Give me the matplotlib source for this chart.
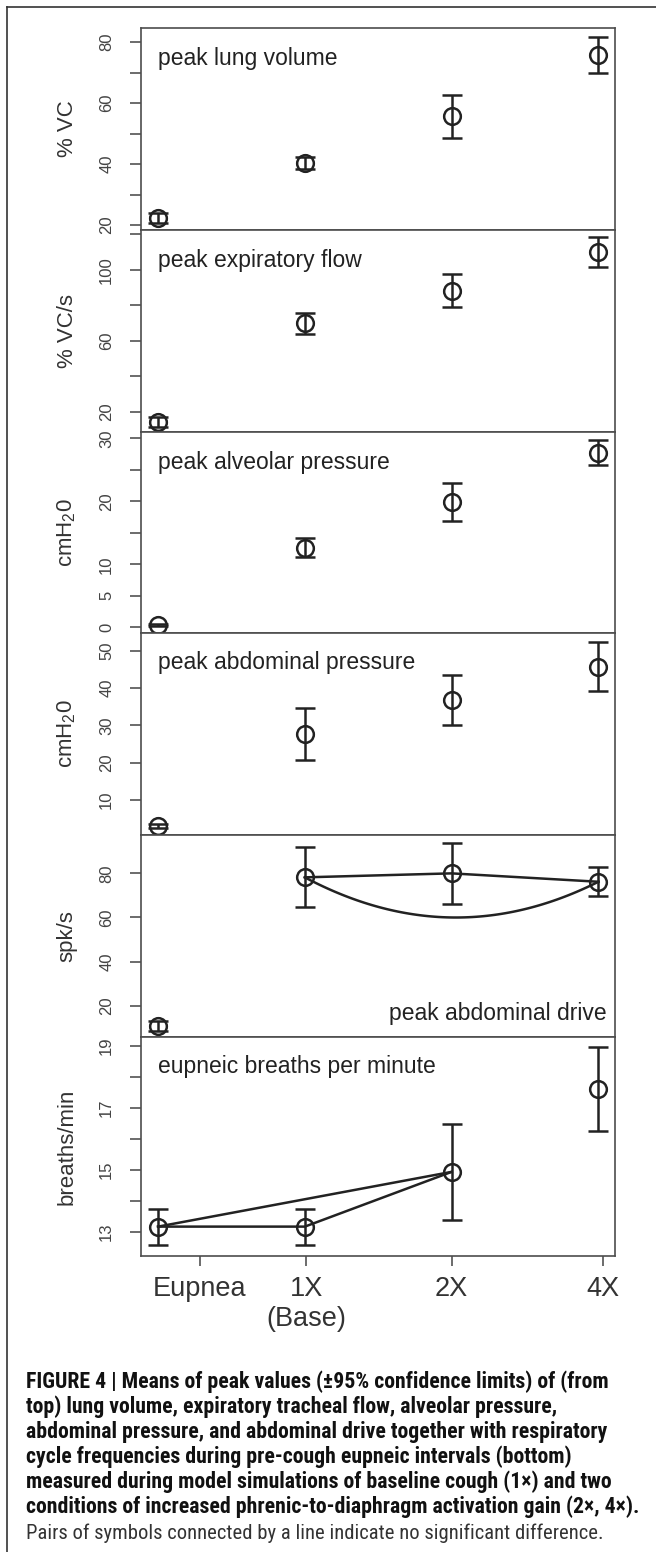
import numpy as np
import matplotlib
matplotlib.use('Agg')
import matplotlib.pyplot as plt
from matplotlib.lines import Line2D

plt.rcParams['font.family'] = ['Liberation Sans', 'DejaVu Sans']
plt.rcParams['mathtext.default'] = 'regular'

# data: means and 95% half-widths
conditions = ['Eupnea', '1X\n(Base)', '2X', '4X']

lung_volume = [22.3, 40.3, 55.7, 75.7]
lung_volume_ci = [1.7, 2.0, 7.0, 5.8]

exp_flow = [14.5, 70.0, 88.3, 110.0]
exp_flow_ci = [2.8, 6.0, 9.3, 8.5]

alv_pressure = [0.36, 12.6, 19.85, 27.7]
alv_pressure_ci = [0.2, 1.5, 3.0, 2.0]

abd_pressure = [3.0, 27.8, 36.8, 45.8]
abd_pressure_ci = [0.6, 7.0, 6.6, 6.6]

abd_drive = [10.9, 78.2, 80.0, 76.2]
abd_drive_ci = [2.2, 13.6, 13.7, 6.5]
abd_drive_arc_low = 60.0   # lowest point of the 1X-4X connecting arc

breaths = [13.16, 13.16, 14.93, 17.6]
breaths_ci = [0.58, 0.58, 1.55, 1.36]

x = np.arange(len(conditions))
tick_pos = [0.286, 1.01, 2.0, 3.03]

ink = '#222222'
grey = '#444444'

W, H = 656, 1552
fig = plt.figure(figsize=(W / 100, H / 100), dpi=100)

left, right = 140.6, 615
edges = [28, 230, 432, 633, 835, 1037, 1256]

panels = [
    (lung_volume, lung_volume_ci, '% VC', 'peak lung volume',
     (18.4, 84.6), [20, 30, 40, 50, 60, 70, 80], [20, 40, 60, 80]),
    (exp_flow, exp_flow_ci, '% VC/s', 'peak expiratory flow',
     (8.7, 122.5), [20, 40, 60, 80, 100, 120], [20, 60, 100]),
    (alv_pressure, alv_pressure_ci, 'cmH$_2$0', 'peak alveolar pressure',
     (-0.9, 31.0), [0, 5, 10, 15, 20, 25, 30], [0, 5, 10, 20, 30]),
    (abd_pressure, abd_pressure_ci, 'cmH$_2$0', 'peak abdominal pressure',
     (0.6, 54.8), [10, 20, 30, 40, 50], [10, 20, 30, 40, 50]),
    (abd_drive, abd_drive_ci, 'spk/s', 'peak abdominal drive',
     (5.8, 97.4), [20, 40, 60, 80], [20, 40, 60, 80]),
    (breaths, breaths_ci, 'breaths/min', 'eupneic breaths per minute',
     (12.21, 19.29), [13, 14, 15, 16, 17, 18, 19], [13, 15, 17, 19]),
]

axes = []
for i, (vals, ci, ylab, title, ylim, ticks, labelled) in enumerate(panels):
    top, bot = edges[i], edges[i + 1]
    ax = fig.add_axes([left / W, 1 - bot / H, (right - left) / W, (bot - top) / H])
    axes.append(ax)
    ax.errorbar(x, vals, yerr=ci, fmt='o', ms=12, mfc='none', mec=ink, mew=1.8,
                ecolor=ink, elinewidth=1.8, capsize=7.5, capthick=1.8, zorder=3)
    ax.set_xlim(-0.119, 3.113)
    ax.set_ylim(*ylim)
    ax.set_yticks(ticks)
    ax.set_yticklabels([str(t) if t in labelled else '' for t in ticks])
    ax.tick_params(axis='y', direction='out', length=8, width=1.1, colors=grey,
                   labelsize=12, pad=11)
    plt.setp(ax.get_yticklabels(), rotation=90, va='center', color=grey)
    for s in ax.spines.values():
        s.set_color('#4d4d4d')
        s.set_linewidth(1.2)
    ax.set_ylabel(ylab, fontsize=16, color='#333333', va='center')
    ax.yaxis.set_label_coords(-0.155, 0.5)
    if i == 4:
        ax.annotate(title, xy=(1, 0), xycoords='axes fraction', xytext=(-6, 17),
                    textcoords='offset points', ha='right', va='center',
                    fontsize=16.5, color=ink)
    else:
        ax.annotate(title, xy=(0, 1), xycoords='axes fraction', xytext=(12.5, -21.6),
                    textcoords='offset points', ha='left', va='center',
                    fontsize=16.5, color=ink)
    if i < 5:
        ax.tick_params(axis='x', bottom=False, labelbottom=False)

# lines joining pairs that do not differ
ax = axes[4]
ax.plot(x[1:], abd_drive[1:], color=ink, lw=1.8, zorder=2)
xs = np.linspace(x[1], x[3], 80)
chord = np.interp(xs, [x[1], x[3]], [abd_drive[1], abd_drive[3]])
mid = (x[1] + x[3]) / 2
half = (x[3] - x[1]) / 2
depth = np.interp(mid, [x[1], x[3]], [abd_drive[1], abd_drive[3]]) - abd_drive_arc_low
ax.plot(xs, chord - depth * (1 - ((xs - mid) / half) ** 2), color=ink, lw=1.8, zorder=2)

ax = axes[5]
ax.plot(x[:3], breaths[:3], color=ink, lw=1.8, zorder=2)
ax.plot([x[0], x[2]], [breaths[0], breaths[2]], color=ink, lw=1.8, zorder=2)
ax.set_xticks(tick_pos)
ax.set_xticklabels(conditions)
ax.tick_params(axis='x', direction='out', length=7.2, width=1.1, colors=grey,
               labelsize=19.5, pad=7)
plt.setp(ax.get_xticklabels(), color='#333333')

# outer frame (top and left only)
fig.add_artist(Line2D([7 / W, 1], [1 - 7 / H, 1 - 7 / H], color='#333333', lw=1.2))
fig.add_artist(Line2D([7 / W, 7 / W], [1 - 7 / H, 0], color='#333333', lw=1.2))

caption = [
    'FIGURE 4 | Means of peak values (\u00b195% confidence limits) of (from',
    'top) lung volume, expiratory tracheal flow, alveolar pressure,',
    'abdominal pressure, and abdominal drive together with respiratory',
    'cycle frequencies during pre-cough eupneic intervals (bottom)',
    'measured during model simulations of baseline cough (1\u00d7) and two',
    'conditions of increased phrenic-to-diaphragm activation gain (2\u00d7, 4\u00d7).',
]
note = 'Pairs of symbols connected by a line indicate no significant difference.'
cap_y = [1381.7, 1406.7, 1431.7, 1457, 1482, 1507]
cap_family = ['Liberation Sans Narrow', 'Roboto Condensed', 'DejaVu Sans']

renderer = fig.canvas.get_renderer()
texts = []
for s, y in zip(caption, cap_y):
    texts.append(fig.text(26 / W, 1 - y / H, s, fontsize=12, fontweight='bold',
                          family=cap_family, fontstretch='condensed',
                          color='#111111', va='center'))
w = texts[-1].get_window_extent(renderer).width
for t in texts:
    t.set_fontsize(12 * 614 / w)

nt = fig.text(26 / W, 1 - 1533 / H, note, fontsize=12, family=cap_family,
              fontstretch='condensed', color='#333333', va='center')
w = nt.get_window_extent(renderer).width
nt.set_fontsize(12 * 576 / w)

fig.savefig('out.png', dpi=100)
